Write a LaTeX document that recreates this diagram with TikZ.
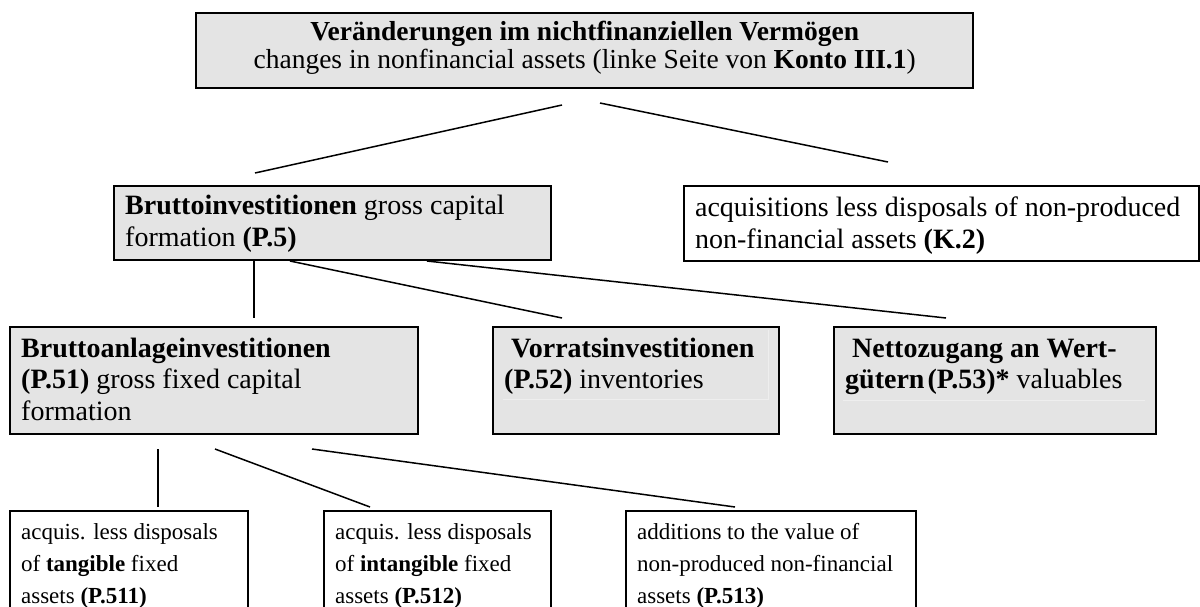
\documentclass[tikz,border=0pt]{standalone}
\usepackage{fontspec}
\setmainfont{Liberation Serif}
\definecolor{boxgray}{RGB}{228,228,228}
\definecolor{celledge}{RGB}{238,238,238}

% \cell{width}{height}{first baseline}{alignment}{text}
\newcommand{\cell}[5]{\parbox[c][#2pt][t]{#1pt}{\vspace*{\dimexpr#3pt-\ht\strutbox\relax}#4\strut#5}}
\newcommand{\lft}{\raggedright\leftskip=11pt\relax}

\tikzset{
  gbox/.style={draw, line width=2.4pt, fill=boxgray, inner sep=0pt, anchor=north west},
  wbox/.style={draw, line width=2.2pt, fill=white, inner sep=0pt, anchor=north west},
  link/.style={line width=1.5pt},
  headfont/.style={font=\fontsize{27.5pt}{28pt}\selectfont},
  midfont/.style={font=\fontsize{28pt}{32pt}\selectfont},
  lowfont/.style={font=\fontsize{28pt}{31.5pt}\selectfont},
  leaffont/.style={font=\fontsize{23pt}{32pt}\selectfont},
}

\begin{document}
\begin{tikzpicture}[x=1pt, y=-1pt]
\useasboundingbox (0,0) rectangle (1200,606);
\clip (0,0) rectangle (1200,606);

% top level
\node[gbox, headfont] (top) at (195,12)
  {\cell{777}{75}{27}{\centering}{\textbf{Veränderungen im nichtfinanziellen Vermögen}\\changes in nonfinancial assets (linke Seite von \textbf{Konto III.1})}};

% second level
\node[gbox, midfont] (p5) at (113,185)
  {\cell{437}{74}{28}{\lft}{\textbf{Bruttoinvestitionen} gross capital\\formation \textbf{(P.5)}}};
\node[wbox, midfont] (k2) at (683,185)
  {\cell{515}{75}{30}{\lft}{acquisitions less disposals of non-produced\\non-financial assets \textbf{(K.2)}}};

% third level
\node[gbox, lowfont] (p51) at (9,326)
  {\cell{408}{107}{30}{\lft}{\textbf{Bruttoanlageinvestitionen}\\\textbf{(P.51)} gross fixed capital\\formation}};
\node[gbox, lowfont] (p52) at (492,326)
  {\cell{286}{107}{30}{\lft}{\hspace*{7pt}\textbf{Vorratsinvestitionen}\\\textbf{(P.52)} inventories}};
\node[gbox, lowfont] (p53) at (833,326)
  {\cell{322}{107}{30}{\lft}{\hspace*{7pt}\textbf{Nettozugang an Wert-}\\\textbf{gütern\hspace{3pt}(P.53)*} valuables}};

% faint cell rulings inside the two short boxes
\draw[celledge, line width=0.8pt] (503,399) -- (768,399) -- (768,330);
\draw[celledge, line width=0.8pt] (843,400) -- (1145,400);

% fourth level
\node[wbox, leaffont] (p511) at (9,510)
  {\cell{238}{110}{28}{\lft}{acquis. less disposals\\of \textbf{tangible} fixed\\assets \textbf{(P.511)}}};
\node[wbox, leaffont] (p512) at (323,510)
  {\cell{227}{110}{28}{\lft}{acquis. less disposals\\of \textbf{intangible} fixed\\assets \textbf{(P.512)}}};
\node[wbox, leaffont] (p513) at (625,510)
  {\cell{290}{110}{28}{\lft}{additions to the value of\\non-produced non-financial\\assets \textbf{(P.513)}}};

% connector end points
\coordinate (top-l) at (562,105);
\coordinate (top-r) at (600,103);
\coordinate (p5-in) at (255,173);
\coordinate (k2-in) at (888,162);

\coordinate (p5-o1) at (254,261);
\coordinate (p5-o2) at (290,261);
\coordinate (p5-o3) at (427,261);
\coordinate (p51-in) at (254,318);
\coordinate (p52-in) at (562,318);
\coordinate (p53-in) at (946,318);

\coordinate (p51-o1) at (158,449);
\coordinate (p51-o2) at (215,449);
\coordinate (p51-o3) at (312,449);
\coordinate (p511-in) at (158,507);
\coordinate (p512-in) at (370,507);
\coordinate (p513-in) at (735,507);

% connectors
\draw[link] (top-l) -- (p5-in);
\draw[link] (top-r) -- (k2-in);
\draw[link] (p5-o1) -- (p51-in);
\draw[link] (p5-o2) -- (p52-in);
\draw[link] (p5-o3) -- (p53-in);
\draw[link] (p51-o1) -- (p511-in);
\draw[link] (p51-o2) -- (p512-in);
\draw[link] (p51-o3) -- (p513-in);
\end{tikzpicture}
\end{document}
